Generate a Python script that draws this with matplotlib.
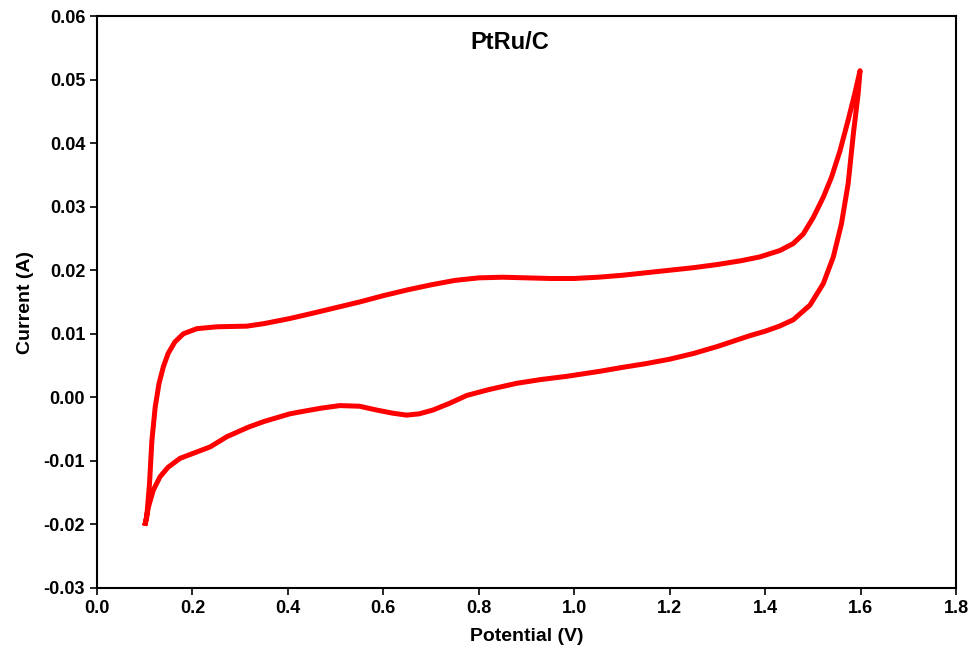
import matplotlib
matplotlib.use('Agg')
import matplotlib.pyplot as plt
import numpy as np

plt.rcParams['font.family'] = ['Liberation Sans', 'DejaVu Sans']
plt.rcParams['font.weight'] = 'bold'

# anodic sweep 0.1 -> 1.6 V
fwd_x = [0.100, 0.104, 0.110, 0.115, 0.122, 0.130, 0.139, 0.149, 0.163, 0.181, 0.209,
         0.251, 0.314, 0.35, 0.404, 0.45, 0.50, 0.55, 0.60, 0.65, 0.70, 0.75, 0.80,
         0.85, 0.90, 0.95, 1.00, 1.05, 1.10, 1.15, 1.20, 1.25, 1.30, 1.35, 1.389,
         1.431, 1.459, 1.480, 1.501, 1.522, 1.539, 1.557, 1.574, 1.588, 1.599]
fwd_y = [-0.0202, -0.0190, -0.0136, -0.0068, -0.0015, 0.0022, 0.0048, 0.0069, 0.0087,
         0.0100, 0.0108, 0.0111, 0.0112, 0.0116, 0.0124, 0.0132, 0.0141, 0.0150, 0.0160,
         0.0169, 0.0177, 0.0184, 0.0188, 0.0189, 0.0188, 0.0187, 0.0187, 0.0189, 0.0192,
         0.0196, 0.0200, 0.0204, 0.0209, 0.0215, 0.0221, 0.0231, 0.0242, 0.0257, 0.0283,
         0.0315, 0.0346, 0.0388, 0.0436, 0.0478, 0.0514]

# cathodic sweep 1.6 -> 0.1 V
rev_x = [1.599, 1.595, 1.585, 1.574, 1.560, 1.543, 1.522, 1.494, 1.459, 1.43, 1.40,
         1.368, 1.30, 1.25, 1.20, 1.15, 1.10, 1.054, 0.984, 0.93, 0.879, 0.82, 0.775,
         0.74, 0.704, 0.675, 0.649, 0.62, 0.586, 0.55, 0.509, 0.47, 0.425, 0.404, 0.35,
         0.317, 0.272, 0.237, 0.209, 0.174, 0.149, 0.132, 0.118, 0.108, 0.100]
rev_y = [0.0514, 0.0478, 0.0415, 0.0336, 0.0273, 0.0221, 0.0179, 0.0145, 0.0122, 0.0112,
         0.0104, 0.0097, 0.0080, 0.0069, 0.0060, 0.0053, 0.0047, 0.0041, 0.0033, 0.0028,
         0.0022, 0.0012, 0.0003, -0.0009, -0.0020, -0.0026, -0.0028, -0.0025, -0.0020,
         -0.0014, -0.0013, -0.0017, -0.0023, -0.0026, -0.0038, -0.0047, -0.0062, -0.0078,
         -0.0086, -0.0096, -0.0110, -0.0125, -0.0146, -0.0172, -0.0202]

fig = plt.figure(figsize=(9.73, 6.62), dpi=100)
ax = fig.add_axes([0.0997, 0.1118, 0.8828, 0.864])

ax.plot(fwd_x + rev_x, fwd_y + rev_y, color='#ff0000', lw=3.6,
        solid_joinstyle='round', solid_capstyle='butt')

ax.set_xlim(0, 1.8)
ax.set_ylim(-0.03, 0.06)
ax.set_xticks(np.arange(0, 1.81, 0.2))
ax.set_yticks(np.arange(-0.03, 0.0601, 0.01))
ax.xaxis.set_major_formatter(matplotlib.ticker.FormatStrFormatter('%.1f'))
ax.yaxis.set_major_formatter(matplotlib.ticker.FormatStrFormatter('%.2f'))
ax.tick_params(direction='out', length=5, width=1.2, labelsize=13, top=False, right=False)
for s in ax.spines.values():
    s.set_linewidth(1.5)

ax.set_xlabel('Potential (V)', fontsize=14, fontweight='bold', labelpad=8)
ax.set_ylabel('Current (A)', fontsize=14, fontweight='bold', labelpad=7)
ax.text(0.865, 0.0558, 'PtRu/C', fontsize=17, fontweight='bold', ha='center', va='center')

fig.savefig('out.png', dpi=100)
